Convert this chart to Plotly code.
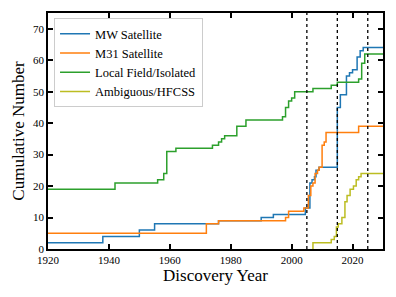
import plotly.graph_objects as go

# MW satellites (cumulative, step post)
mw_years = [1920, 1938, 1950, 1955, 1976, 1990, 1994, 2004.5, 2006, 2006.7, 2007.5, 2008, 2009,
            2015, 2016, 2018, 2019, 2020, 2021.5, 2022.5, 2023.5, 2030]
mw_counts = [2, 4, 6, 8, 9, 10, 11, 13, 21, 22, 23, 25, 26,
             45, 49, 55, 56, 57, 61, 63, 64, 64]

# M31 satellites
m31_years = [1920, 1972, 1976, 1998, 1999, 2004, 2005.5, 2006.3, 2007, 2007.7, 2008.5, 2009,
             2010, 2010.7, 2011.3, 2022, 2030]
m31_counts = [5, 8, 9, 10, 12, 13, 17, 20, 21, 24, 25, 26,
              33, 34, 37, 39, 39]

# Local field / isolated
lf_years = [1920, 1942, 1956, 1958, 1959, 1962, 1974, 1976, 1977, 1978, 1982, 1985,
            1997, 1998, 1999, 2000, 2001, 2007, 2013, 2015, 2022, 2023, 2024, 2030]
lf_counts = [19, 21, 22, 24, 31, 32, 33, 34, 35, 36, 39, 41,
             42, 45, 47, 48, 50, 51, 52, 53, 54, 59, 62, 62]

# Ambiguous / HFCSS
amb_years = [2007, 2007, 2013, 2014, 2014.7, 2015.3, 2016.5, 2017.5, 2018.2, 2019.2, 2020.3,
             2021.2, 2022, 2022.8, 2030]
amb_counts = [0, 2, 3, 4, 7, 8, 10, 15, 17, 19, 20, 22, 23, 24, 24]

series = [
    ("MW Satellite", mw_years, mw_counts, "#1f77b4"),
    ("M31 Satellite", m31_years, m31_counts, "#ff7f0e"),
    ("Local Field/Isolated", lf_years, lf_counts, "#2ca02c"),
    ("Ambiguous/HFCSS", amb_years, amb_counts, "#bcbd22"),
]

survey_years = [2005, 2015, 2025]

x_ticks = [1920, 1940, 1960, 1980, 2000, 2020]
y_ticks = [0, 10, 20, 30, 40, 50, 60, 70]

FONT = "Liberation Serif"

fig = go.Figure()
for name, xs, ys, col in series:
    fig.add_trace(go.Scatter(x=xs, y=ys, mode="lines", name=name,
                             line=dict(color=col, width=1.5, shape="hv")))

for yr in survey_years:
    fig.add_vline(x=yr, line=dict(color="black", width=1.3, dash="dot"))

axis_common = dict(
    showgrid=False, zeroline=False, showline=True, linecolor="black", linewidth=1.5,
    mirror="ticks", ticks="inside", ticklen=5, tickwidth=1.5, tickcolor="black",
    tickfont=dict(family=FONT, size=11, color="black"), automargin=False,
)

fig.update_layout(
    width=396, height=297,
    margin=dict(l=48, r=13, t=13, b=48, autoexpand=False),
    paper_bgcolor="white", plot_bgcolor="white",
    font=dict(family=FONT, color="black"),
    xaxis=dict(range=[1920, 2030], tickvals=x_ticks,
               title=dict(text="Discovery Year", font=dict(family=FONT, size=17), standoff=2),
               **axis_common),
    yaxis=dict(range=[0, 75], tickvals=y_ticks,
               title=dict(text="Cumulative Number", font=dict(family=FONT, size=17), standoff=4),
               **axis_common),
    legend=dict(x=0.018, y=0.978, xanchor="left", yanchor="top",
                bgcolor="rgba(255,255,255,0.8)", bordercolor="#cccccc", borderwidth=1,
                font=dict(family=FONT, size=12.5), tracegroupgap=0, itemwidth=30),
    showlegend=True,
)

fig.write_html("out.html", config={"displayModeBar": False},
               post_script="document.body.style.margin='0';")
